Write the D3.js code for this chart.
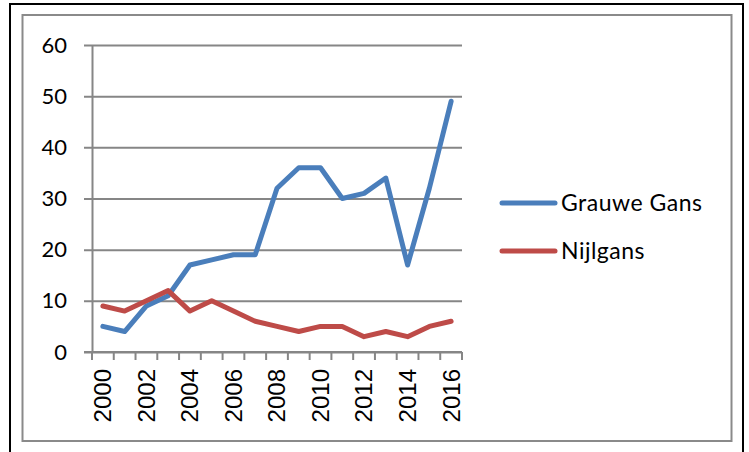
<!DOCTYPE html>
<html>
<head>
<meta charset="utf-8">
<script src="https://cdn.jsdelivr.net/npm/d3@7"></script>
<style>
  body { margin: 0; background: #fff; }
  svg { display: block; }
</style>
</head>
<body>
<script>
const WIDTH = 749
const HEIGHT = 452

// data
const years = d3.range(2000, 2017)
const grauweGans = [5, 4, 9, 11, 17, 18, 19, 19, 32, 36, 36, 30, 31, 34, 17, 32, 49]
const nijlgans = [9, 8, 10, 12, 8, 10, 8, 6, 5, 4, 5, 5, 3, 4, 3, 5, 6]
const seriesNames = ["Grauwe Gans", "Nijlgans"]
const colors = ["#4a7ebb", "#be4b48"]
const yTicks = [0, 10, 20, 30, 40, 50, 60]

const svg = d3.select("body")
    .append("svg")
    .attr("width", WIDTH)
    .attr("height", HEIGHT)

// outer black border (no bottom edge visible)
svg.append("path")
    .attr("d", "M10,470V4H743V470")
    .attr("fill", "none")
    .attr("stroke", "#000")
    .attr("stroke-width", 2)

// chart frame
svg.append("rect")
    .attr("x", 22.5).attr("y", 15)
    .attr("width", 709).attr("height", 426)
    .attr("fill", "#fff")
    .attr("stroke", "#8a8a8a")
    .attr("stroke-width", 2)

const plotLeft = 92, plotRight = 462, plotTop = 45, plotBottom = 352

const x = d3.scaleBand().domain(years).range([plotLeft, plotRight])
const y = d3.scaleLinear().domain([0, 60]).range([plotBottom, plotTop])

const gridColor = "#868686"

// gridlines + y ticks
const yAxis = svg.append("g")
    .attr("transform", `translate(${plotLeft},0)`)
    .call(d3.axisLeft(y).tickValues(yTicks).tickSizeInner(8).tickSizeOuter(0).tickPadding(17))
yAxis.select(".domain").attr("stroke", gridColor).attr("stroke-width", 2)
yAxis.selectAll(".tick line")
    .attr("x2", -8).attr("x1", plotRight - plotLeft)
    .attr("stroke", gridColor).attr("stroke-width", 2)
yAxis.selectAll("text")
    .attr("font-family", "Lato, sans-serif")
    .attr("font-size", 22)
    .attr("fill", "#000")

// x axis
const xAxis = svg.append("g")
    .attr("transform", `translate(0,${plotBottom})`)
    .call(d3.axisBottom(x).tickSize(0).tickFormat(d => d % 2 === 0 ? d : ""))
xAxis.select(".domain").remove()
xAxis.append("line")
    .attr("x1", plotLeft - 8).attr("x2", plotRight)
    .attr("stroke", gridColor).attr("stroke-width", 2)
xAxis.selectAll(".tick text")
    .attr("transform", "rotate(-90)")
    .attr("x", -17).attr("y", 0).attr("dy", "0.35em")
    .attr("text-anchor", "end")
    .attr("font-family", "'Liberation Sans', Arial, sans-serif")
    .attr("font-size", 24)
    .attr("fill", "#000")

// tick marks between categories
const edges = years.map(d => x(d)).concat([x(years[years.length - 1]) + x.bandwidth()])
xAxis.selectAll(".edge")
    .data(edges)
    .enter()
    .append("line")
    .attr("x1", d => d).attr("x2", d => d)
    .attr("y1", 0).attr("y2", 8)
    .attr("stroke", gridColor).attr("stroke-width", 2)

// lines
const line = d3.line()
    .x((d, i) => x(years[i]) + x.bandwidth() / 2)
    .y(d => y(d))

const allSeries = [grauweGans, nijlgans]
svg.append("g")
    .selectAll("path")
    .data(allSeries)
    .enter()
    .append("path")
    .attr("d", line)
    .attr("fill", "none")
    .attr("stroke", (d, i) => colors[i])
    .attr("stroke-width", 5)
    .attr("stroke-linejoin", "round")
    .attr("stroke-linecap", "round")

// legend
const legend = svg.append("g")
const legendY = [203, 251]
legend.selectAll("line")
    .data(seriesNames)
    .enter()
    .append("line")
    .attr("x1", 502).attr("x2", 555)
    .attr("y1", (d, i) => legendY[i]).attr("y2", (d, i) => legendY[i])
    .attr("stroke", (d, i) => colors[i])
    .attr("stroke-width", 5)
    .attr("stroke-linecap", "round")
legend.selectAll("text")
    .data(seriesNames)
    .enter()
    .append("text")
    .text(d => d)
    .attr("x", 561)
    .attr("y", (d, i) => legendY[i])
    .attr("dy", "0.35em")
    .attr("font-family", "Lato, sans-serif")
    .attr("font-size", 23)
    .attr("letter-spacing", 0.5)
    .attr("fill", "#000")
</script>
</body>
</html>
